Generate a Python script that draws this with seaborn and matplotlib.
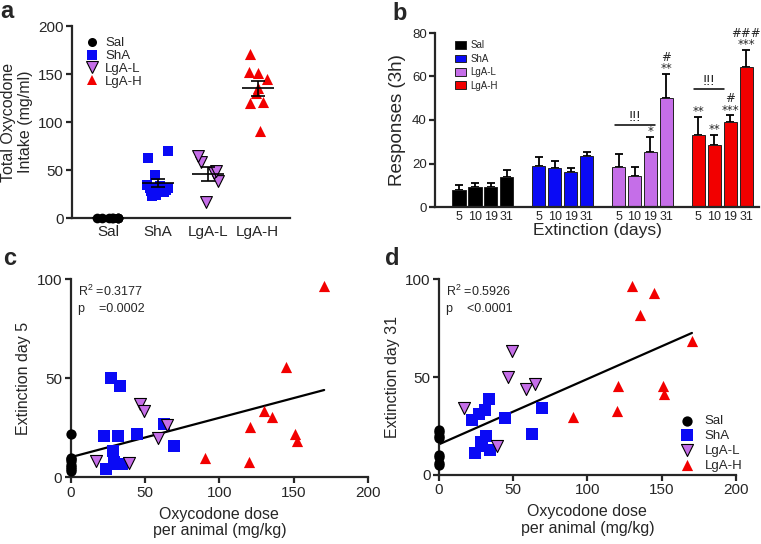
import numpy as np
import pandas as pd
import seaborn as sns
import matplotlib.pyplot as plt
from matplotlib.lines import Line2D

GROUPS = ['Sal', 'ShA', 'LgA-L', 'LgA-H']
COLORS = {'Sal': '#000000', 'ShA': '#0a0af5', 'LgA-L': '#c56ee8', 'LgA-H': '#f20000'}
EDGES = {'Sal': '#000000', 'ShA': '#0a0af5', 'LgA-L': '#000000', 'LgA-H': '#f20000'}
MARKERS = {'Sal': 'o', 'ShA': 's', 'LgA-L': 'v', 'LgA-H': '^'}

# oxycodone per animal (panel a values, x of panels c and d)
sal_dose = [0, 0, 0, 0, 0, 0, 0, 0]
sha_dose = [22.5, 24, 27, 28.5, 29, 31, 31.5, 33.5, 34.5, 44.5, 62.5, 69.5]
lgal_dose = [17, 39, 46.5, 49, 58.5, 65]
lgah_dose = [90.5, 120, 120.5, 130, 135.5, 145, 151, 152, 170.5]

# responses on extinction day 5 (panel c)
sal_ext5 = [22, 10, 9, 8, 6, 5, 4, 3]
sha_ext5 = [21, 4, 50, 13.5, 7.5, 6.5, 21, 46, 6.5, 22, 27, 16]
lgal_ext5 = [8, 7, 37, 33.5, 20, 26.5]
lgah_ext5 = [9.5, 7.5, 25.5, 33.5, 30.5, 55.5, 22, 18.5, 96.5]

# responses on extinction day 31 (panel d)
sal_ext31 = [23, 22, 20, 19, 10, 9, 6, 5]
sha_ext31 = [28, 11, 31, 17, 15, 33, 20, 39, 13, 29, 21, 34]
lgal_ext31 = [34, 15, 50, 63.5, 44, 46.5]
lgah_ext31 = [29.5, 32.5, 45.5, 96.5, 82, 93, 45.5, 41.5, 68.5]

# panel b: mean and SEM of responses (3h) per extinction day
days = ['5', '10', '19', '31']
sal_resp = [8, 9, 9, 14]
sha_resp = [19, 18, 16, 23.3]
lgal_resp = [18.2, 14.3, 25.1, 50.3]
lgah_resp = [33.3, 28.4, 39.2, 64.2]
sal_sem = [2, 2, 2, 3]
sha_sem = [4, 3, 2, 2]
lgal_sem = [6.2, 3.9, 7.1, 10.8]
lgah_sem = [7.9, 4.9, 2.9, 8.0]
sal_sig = ['', '', '', '']
sha_sig = ['', '', '', '']
lgal_sig = ['', '', '*', '#\n**']
lgah_sig = ['**', '**', '#\n***', '###\n***']

dose = dict(zip(GROUPS, [sal_dose, sha_dose, lgal_dose, lgah_dose]))
ext5 = dict(zip(GROUPS, [sal_ext5, sha_ext5, lgal_ext5, lgah_ext5]))
ext31 = dict(zip(GROUPS, [sal_ext31, sha_ext31, lgal_ext31, lgah_ext31]))

W, H = 761, 544


def rect(left, right, top, bottom):
    return [left / W, 1 - bottom / H, (right - left) / W, (bottom - top) / H]


def style_axis(ax, size):
    sns.despine(ax=ax)
    ax.tick_params(labelsize=size, width=1.6, length=4, pad=2)


def panel_a(fig):
    ax = fig.add_axes(rect(72, 290, 26, 218))
    np.random.seed(4)
    sizes = {'Sal': 7, 'ShA': 7.5, 'LgA-L': 8.5, 'LgA-H': 8}
    for grp in GROUPS:
        vals = dose[grp]
        sns.stripplot(x=[grp] * len(vals), y=vals, order=GROUPS, marker=MARKERS[grp],
                      color=COLORS[grp], edgecolor=EDGES[grp], linewidth=0.8 if grp == 'LgA-L' else 0,
                      size=sizes[grp], jitter=0.22, clip_on=False, zorder=3, ax=ax)
        m = np.mean(vals)
        sem = np.std(vals, ddof=1) / np.sqrt(len(vals))
        ax.hlines(m, GROUPS.index(grp) - 0.32, GROUPS.index(grp) + 0.32, color='black', lw=1.2, zorder=4)
        ax.errorbar(GROUPS.index(grp), m, yerr=sem, color='black', lw=1.2, capsize=5, capthick=1.2, zorder=4)
    ax.set_xlim(-0.72, 3.65)
    ax.set_ylim(0, 200)
    ax.set_yticks([0, 50, 100, 150, 200])
    ax.set_ylabel('Total Oxycodone\nIntake (mg/ml)', fontsize=11.5, labelpad=4, linespacing=1.1)
    style_axis(ax, 11)
    ax.tick_params(axis='x', length=0, pad=5)
    handles = [Line2D([], [], ls='', marker=MARKERS[g], markersize=sizes[g] - 0.5, markerfacecolor=COLORS[g],
                      markeredgecolor=EDGES[g], markeredgewidth=0.8 if g == 'LgA-L' else 0) for g in GROUPS]
    ax.legend(handles, GROUPS, loc='upper left', bbox_to_anchor=(0.03, 0.97), frameon=False, fontsize=9.5,
              handletextpad=0.4, labelspacing=0.05, borderaxespad=0, handlelength=1.2)
    fig.text(0 / W, 1 - 18 / H, 'a', fontsize=17, fontweight='bold', va='baseline')


def panel_b(fig):
    ax = fig.add_axes(rect(435, 759, 33, 207))
    means = dict(zip(GROUPS, [sal_resp, sha_resp, lgal_resp, lgah_resp]))
    sems = dict(zip(GROUPS, [sal_sem, sha_sem, lgal_sem, lgah_sem]))
    sigs = dict(zip(GROUPS, [sal_sig, sha_sig, lgal_sig, lgah_sig]))
    rows = []
    for g, grp in enumerate(GROUPS):
        for i, d in enumerate(days):
            rows.append({'group': grp, 'day': d, 'pos': g * 5 + i, 'mean': means[grp][i],
                         'sem': sems[grp][i], 'sig': sigs[grp][i]})
    df = pd.DataFrame(rows)
    sns.barplot(data=df, x='pos', y='mean', hue='group', palette=COLORS, native_scale=True,
                width=0.83, errorbar=None, saturation=1, edgecolor='#222222', linewidth=0.7,
                ax=ax, zorder=2)
    ax.errorbar(df['pos'], df['mean'], yerr=[np.zeros(len(df)), df['sem']], fmt='none',
                ecolor='black', elinewidth=1.3, capsize=3.2, capthick=1.3, zorder=1)
    for _, r in df.iterrows():
        if r['sig']:
            ax.text(r['pos'], r['mean'] + r['sem'] - 0.5, r['sig'], ha='center', va='bottom',
                    fontsize=8.5, linespacing=0.85, family='DejaVu Sans')
    # !!! brackets
    ax.plot([9.75, 12.3], [37.9, 37.9], color='black', lw=1.1)
    ax.text(11.05, 38.3, '!!!', ha='center', va='bottom', fontsize=10.5)
    ax.plot([14.7, 16.6], [54.4, 54.4], color='black', lw=1.1)
    ax.text(15.65, 54.8, '!!!', ha='center', va='bottom', fontsize=10.5)
    ax.set_xticks(df['pos'])
    ax.set_xticklabels(df['day'])
    ax.set_xlim(-1.5, 18.8)
    ax.set_ylim(0, 80)
    ax.set_yticks([0, 20, 40, 60, 80])
    ax.set_xlabel('Extinction (days)', fontsize=12.5, labelpad=0)
    ax.set_ylabel('Responses (3h)', fontsize=13.5, labelpad=4)
    style_axis(ax, 9.5)
    ax.tick_params(axis='x', length=0, labelsize=9, pad=3)
    sns.move_legend(ax, 'upper left', bbox_to_anchor=(0.05, 0.98), frameon=False, title=None,
                    fontsize=7, handlelength=1.1, handleheight=0.8, handletextpad=0.5,
                    labelspacing=0.35, borderaxespad=0)
    fig.text(392 / W, 1 - 20 / H, 'b', fontsize=17, fontweight='bold', va='baseline')


def scatter_panel(fig, box, ydata, ylabel, stats, label, lab_xy, legend=False):
    ax = fig.add_axes(box)
    sizes = {'Sal': 55, 'ShA': 70, 'LgA-L': 75, 'LgA-H': 65}
    for grp in GROUPS:
        sns.scatterplot(x=dose[grp], y=ydata[grp], marker=MARKERS[grp], color=COLORS[grp],
                        edgecolor=EDGES[grp], linewidth=0.8 if grp == 'LgA-L' else 0, s=sizes[grp],
                        clip_on=False, zorder=3, label=grp, legend=False, ax=ax)
    all_x = sum((dose[g] for g in GROUPS), [])
    all_y = sum((ydata[g] for g in GROUPS), [])
    sns.regplot(x=all_x, y=all_y, scatter=False, ci=None, color='black', line_kws={'lw': 1.6}, ax=ax)
    ax.set_xlim(0, 200)
    ax.set_ylim(0, 100)
    ax.set_xticks([0, 50, 100, 150, 200])
    ax.set_yticks([0, 50, 100])
    ax.set_xlabel('Oxycodone dose\nper animal (mg/kg)', fontsize=11.5, labelpad=5, linespacing=1.15)
    ax.set_ylabel(ylabel, fontsize=11.5, labelpad=4)
    style_axis(ax, 11)
    ax.text(0.025, 0.975, stats, transform=ax.transAxes, ha='left', va='top', fontsize=9,
            linespacing=1.35)
    if legend:
        ax.legend(loc='lower right', bbox_to_anchor=(1.04, -0.01), frameon=False, fontsize=9.5,
                  handletextpad=0.3, labelspacing=0.2, borderaxespad=0)
    else:
        leg = ax.get_legend()
        if leg is not None:
            leg.remove()
    fig.text(lab_xy[0] / W, 1 - lab_xy[1] / H, label, fontsize=17, fontweight='bold', va='baseline')


def main():
    sns.set_theme(style='ticks')
    plt.rcParams['font.family'] = ['Liberation Sans', 'DejaVu Sans']
    plt.rcParams['axes.linewidth'] = 1.6
    plt.rcParams['mathtext.fontset'] = 'custom'
    plt.rcParams['mathtext.rm'] = 'Liberation Sans'
    fig = plt.figure(figsize=(W / 100, H / 100), dpi=100)
    panel_a(fig)
    panel_b(fig)
    scatter_panel(fig, rect(70.7, 368, 279.3, 477.3), ext5, 'Extinction day 5',
                  'R$^2$ =0.3177\np    =0.0002', 'c', (3, 265))
    scatter_panel(fig, rect(439, 735.7, 279.3, 475), ext31, 'Extinction day 31',
                  'R$^2$ =0.5926\np    <0.0001', 'd', (385, 265), legend=True)
    fig.savefig('out.png', dpi=100)


if __name__ == '__main__':
    main()
